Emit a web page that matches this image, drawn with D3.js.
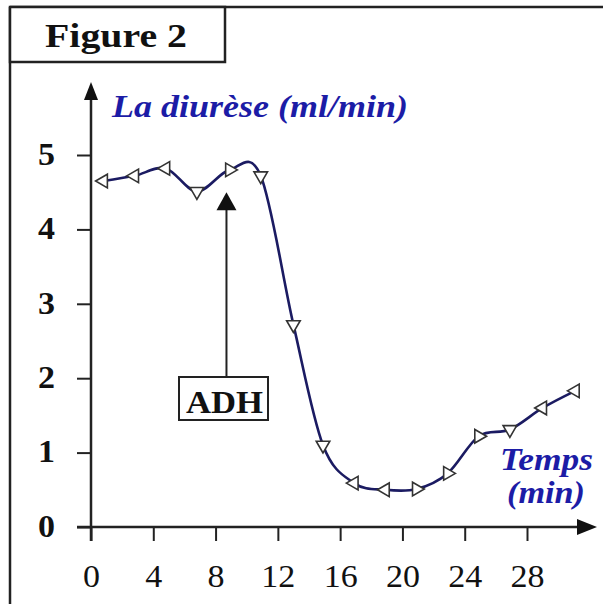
<!DOCTYPE html>
<html>
<head>
<meta charset="utf-8">
<script src="https://cdn.jsdelivr.net/npm/d3@7"></script>
<style>
  html, body { margin: 0; padding: 0; background: #fff; }
  #chart-target { width: 603px; height: 604px; }
</style>
</head>
<body>
<div id="chart-target"></div>
<script>
// 1. 데이터
const timeValues = [0.8, 2.8, 4.8, 6.8, 8.9, 10.9, 13, 14.9, 16.9, 18.9, 20.9, 22.9, 24.9, 26.9, 29, 31.1];
const diureseValues = [4.65, 4.72, 4.82, 4.51, 4.80, 4.72, 2.72, 1.10, 0.59, 0.50, 0.51, 0.72, 1.22, 1.31, 1.60, 1.83];
const xTickValues = [0, 4, 8, 12, 16, 20, 24, 28];
const yTickValues = [0, 1, 2, 3, 4, 5];
const adhTime = 8.7;
const adhValue = 4.5;

// marker orientation (degrees), 점마다 삼각형 방향
const markerAngles = [180, 180, 180, 90, 0, 90, 90, 90, 180, 180, 0, 0, 0, 90, 180, 180];

const drawChart = () => {
  const width = 603, height = 604;
  const ink = "#222";
  const blue = "#1c1ca6";
  const lineColor = "#1b1b62";
  const serif = "'Liberation Serif', 'DejaVu Serif', serif";

  const svg = d3.select("#chart-target").append("svg")
    .attr("width", width).attr("height", height);

  // 글자 폭을 원본처럼 약간 넓게
  const addText = (x, y, str, size, len, opts = {}) => svg.append("text")
    .attr("x", x).attr("y", y)
    .attr("textLength", len).attr("lengthAdjust", "spacingAndGlyphs")
    .style("font-family", serif)
    .style("font-weight", opts.bold ? "bold" : "normal")
    .style("font-style", opts.italic ? "italic" : "normal")
    .style("font-size", size + "px")
    .style("fill", opts.color || "#111")
    .text(str);

  // 척도
  const xScale = d3.scaleLinear().domain([0, 28]).range([91, 527]);
  const yScale = d3.scaleLinear().domain([0, 5]).range([527, 155]);

  // 바깥 테두리 + Figure 2 박스
  svg.append("line").attr("x1", 10).attr("x2", width).attr("y1", 7).attr("y2", 7)
    .attr("stroke", ink).attr("stroke-width", 2.5);
  svg.append("line").attr("x1", 10).attr("x2", 10).attr("y1", 7).attr("y2", height)
    .attr("stroke", ink).attr("stroke-width", 2.5);
  svg.append("rect").attr("x", 10).attr("y", 7).attr("width", 215).attr("height", 55)
    .attr("fill", "#fff").attr("stroke", ink).attr("stroke-width", 2.5);
  addText(45, 47, "Figure 2", 33, 142, { bold: true });

  // 축
  const yAxis = svg.append("g")
    .attr("transform", `translate(${xScale(0)},0)`)
    .call(d3.axisLeft(yScale).tickValues(yTickValues).tickSize(14).tickPadding(22).tickFormat(d3.format("d")));
  yAxis.select(".domain").remove();
  yAxis.selectAll("line").attr("stroke", ink).attr("stroke-width", 2);
  yAxis.selectAll("text").style("font-family", serif).style("font-weight", "bold")
    .style("font-size", "31px").style("fill", "#111")
    .attr("dy", "0.3em")
    .attr("textLength", d => String(d).length * 17).attr("lengthAdjust", "spacingAndGlyphs");

  const xAxis = svg.append("g")
    .attr("transform", `translate(0,${yScale(0)})`)
    .call(d3.axisBottom(xScale).tickValues(xTickValues).tickSize(14).tickPadding(23).tickFormat(d3.format("d")));
  xAxis.select(".domain").remove();
  xAxis.selectAll("line").attr("stroke", ink).attr("stroke-width", 2);
  xAxis.selectAll("text").style("font-family", serif)
    .style("font-size", "32px").style("fill", "#111")
    .attr("textLength", d => String(d).length * 17).attr("lengthAdjust", "spacingAndGlyphs");

  // 축 선 + 화살표
  svg.append("line").attr("x1", xScale(0)).attr("x2", xScale(0))
    .attr("y1", 96).attr("y2", yScale(0) + 14).attr("stroke", ink).attr("stroke-width", 2.5);
  svg.append("line").attr("x1", xScale(0) - 14).attr("x2", 580)
    .attr("y1", yScale(0)).attr("y2", yScale(0)).attr("stroke", ink).attr("stroke-width", 2.5);
  svg.append("path").attr("d", `M${xScale(0)},82 L${xScale(0) - 7},100 L${xScale(0) + 7},100 Z`).attr("fill", "#111");
  svg.append("path").attr("d", `M597,${yScale(0)} L577,${yScale(0) - 8} L577,${yScale(0) + 8} Z`).attr("fill", "#111");

  // 축 제목
  addText(112, 117, "La diurèse (ml/min)", 31, 296, { bold: true, italic: true, color: blue });
  addText(500, 470, "Temps", 32, 93, { bold: true, italic: true, color: blue });
  addText(507, 503, "(min)", 32, 78, { bold: true, italic: true, color: blue });

  // ADH 화살표
  const ax = xScale(adhTime), ay = yScale(adhValue);
  svg.append("line").attr("x1", ax).attr("x2", ax).attr("y1", ay + 15).attr("y2", 377)
    .attr("stroke", ink).attr("stroke-width", 2);
  svg.append("path").attr("d", `M${ax},${ay} L${ax - 10},${ay + 18} L${ax + 10},${ay + 18} Z`).attr("fill", "#111");
  svg.append("rect").attr("x", 179).attr("y", 377).attr("width", 89).attr("height", 43)
    .attr("fill", "#fff").attr("stroke", ink).attr("stroke-width", 2);
  addText(186, 413, "ADH", 32, 77, { bold: true });

  // 곡선
  const points = timeValues.map((t, i) => ({ t, v: diureseValues[i], a: markerAngles[i] }));
  const lineGen = d3.line().x(d => xScale(d.t)).y(d => yScale(d.v)).curve(d3.curveCatmullRom.alpha(0));
  svg.append("path").datum(points).attr("d", lineGen)
    .attr("fill", "none").attr("stroke", lineColor).attr("stroke-width", 2.6);

  // 삼각형 마커
  const tri = d3.symbol().type(d3.symbolTriangle).size(80);
  svg.selectAll(".marker").data(points).enter().append("path")
    .attr("class", "marker")
    .attr("d", tri)
    .attr("transform", d => `translate(${xScale(d.t)},${yScale(d.v)}) rotate(${d.a + 90})`)
    .attr("fill", "#fff").attr("stroke", "#333").attr("stroke-width", 1.6);
};

drawChart();
</script>
</body>
</html>
